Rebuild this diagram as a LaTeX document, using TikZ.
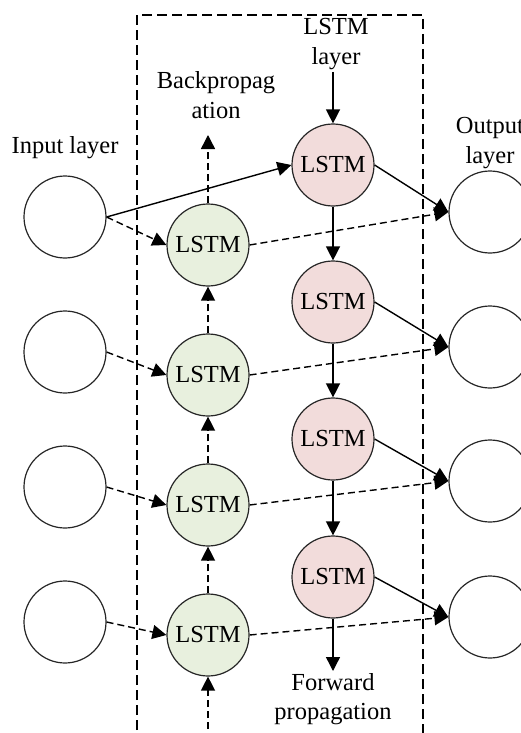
\documentclass[tikz,border=0pt]{standalone}
\usepackage{fontspec}
\setmainfont{Liberation Serif}
\usetikzlibrary{arrows.meta}
\definecolor{greenfill}{RGB}{232,240,222}
\definecolor{pinkfill}{RGB}{242,220,219}
\begin{document}
\begin{tikzpicture}[x=1pt,y=-1pt,
  every node/.style={font=\fontsize{24.5}{29.5}\selectfont},
  unit/.style={circle,draw=black!85,line width=1.2pt,minimum size=82pt,inner sep=0pt},
  gcell/.style={unit,fill=greenfill},
  pcell/.style={unit,fill=pinkfill},
  lbl/.style={align=center,inner sep=0pt},
  conn/.style={line width=1.4pt,-{Triangle[length=14pt,width=14pt]}},
  dconn/.style={conn,dash pattern=on 7pt off 4pt},
  box/.style={line width=1.2pt,dash pattern=on 10pt off 5pt}
]
\useasboundingbox (0,0) rectangle (521,733);
\clip (0,0) rectangle (521,733);
\draw[box] (137,760) -- (137,15) -- (423,15) -- (423,760);

% input layer
\node[unit] (i1) at (65,217) {};
\node[unit] (i2) at (65,352) {};
\node[unit] (i3) at (65,487) {};
\node[unit] (i4) at (65,622) {};
% backward cells
\node[gcell] (g1) at (208,245) {LSTM};
\node[gcell] (g2) at (208,375) {LSTM};
\node[gcell] (g3) at (208,505) {LSTM};
\node[gcell] (g4) at (208,635) {LSTM};
% forward cells
\node[pcell] (p1) at (333,165) {LSTM};
\node[pcell] (p2) at (333,302) {LSTM};
\node[pcell] (p3) at (333,439) {LSTM};
\node[pcell] (p4) at (333,577) {LSTM};
% output layer
\node[unit] (o1) at (490,212) {};
\node[unit] (o2) at (490,347) {};
\node[unit] (o3) at (490,481) {};
\node[unit] (o4) at (490,617) {};

% labels
\node[lbl] (tin) at (65,148) {Input layer};
\node[lbl] (tout) at (490,143) {Output\\layer};
\node[lbl] (tlstm) at (336,44) {LSTM\\layer};
\node[lbl] (tback) at (216,95) {Backpropag\\ation};
\node[lbl] (tfwd) at (333,699) {Forward\\propagation};
\coordinate (btop) at (208,135);
\coordinate (bbot) at (208,740);
\coordinate (ftop) at (333,72);
\coordinate (fbot) at (333,671);

% forward chain
\draw[conn] (ftop) -- (p1.north);
\draw[conn] (p1) -- (p2);
\draw[conn] (p2) -- (p3);
\draw[conn] (p3) -- (p4);
\draw[conn] (p4.south) -- (fbot);
% backward chain
\draw[dconn] (bbot) -- (g4.south);
\draw[dconn] (g4) -- (g3);
\draw[dconn] (g3) -- (g2);
\draw[dconn] (g2) -- (g1);
\draw[dconn] (g1.north) -- (btop);

% input to cells
\draw[conn] (i1.east) -- (p1.west);
\draw[dconn] (i1.east) -- (g1.west);
\draw[dconn] (i2.east) -- (g2.west);
\draw[dconn] (i3.east) -- (g3.west);
\draw[dconn] (i4.east) -- (g4.west);
% cells to output
\draw[dconn] (g1.east) -- (o1.west);
\draw[dconn] (g2.east) -- (o2.west);
\draw[dconn] (g3.east) -- (o3.west);
\draw[dconn] (g4.east) -- (o4.west);
\draw[conn] (p1.east) -- (o1.west);
\draw[conn] (p2.east) -- (o2.west);
\draw[conn] (p3.east) -- (o3.west);
\draw[conn] (p4.east) -- (o4.west);
\end{tikzpicture}
\end{document}
